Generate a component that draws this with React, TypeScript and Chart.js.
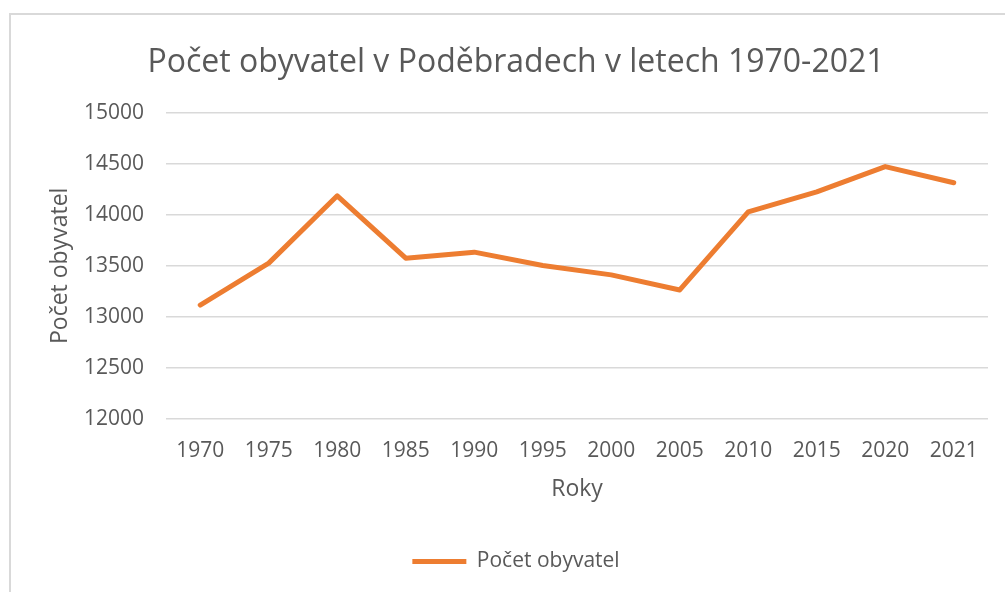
import React, { useEffect, useRef } from "react";
import { Chart, registerables } from "chart.js";

Chart.register(...registerables);

const years = ["1970", "1975", "1980", "1985", "1990", "1995", "2000", "2005", "2010", "2015", "2020", "2021"];
const population = [13115, 13526, 14187, 13575, 13634, 13503, 13411, 13263, 14030, 14226, 14474, 14315];
const yMin = 12000;
const yMax = 15000;
const yStep = 500;
const chartTitle = "Počet obyvatel v Poděbradech v letech 1970-2021";
const seriesName = "Počet obyvatel";
const xTitle = "Roky";
const yTitle = "Počet obyvatel";

const FONT = "'Open Sans', Lato, sans-serif";
const TEXT = "#595959";
const ORANGE = "#ED7D31";
const GRID = "#d9d9d9";

export default function App() {
  const ref = useRef<HTMLCanvasElement | null>(null);

  useEffect(() => {
    if (!ref.current) return;
    const chart = new Chart(ref.current, {
      type: "line",
      data: {
        labels: years,
        datasets: [
          {
            label: seriesName,
            data: population,
            borderColor: ORANGE,
            backgroundColor: ORANGE,
            borderWidth: 5,
            borderCapStyle: "round",
            borderJoinStyle: "round",
            pointRadius: 0,
            pointHoverRadius: 0,
            tension: 0,
            fill: false,
          },
        ],
      },
      options: {
        responsive: false,
        animation: false,
        devicePixelRatio: 1,
        layout: { padding: { left: 44, right: 17, top: 14, bottom: 10 } },
        plugins: {
          title: {
            display: true,
            text: chartTitle,
            color: TEXT,
            font: { family: FONT, size: 32, weight: "normal" },
            padding: { top: 30, bottom: 30.6 },
          },
          legend: {
            display: true,
            position: "bottom",
            labels: {
              color: TEXT,
              font: { family: FONT, size: 21 },
              usePointStyle: true,
              pointStyle: "line",
              pointStyleWidth: 54,
              boxHeight: 21,
              padding: 10,
            },
          },
          tooltip: { enabled: false },
        },
        scales: {
          x: {
            offset: true,
            grid: { display: false, drawTicks: false },
            border: { display: false },
            ticks: {
              color: TEXT,
              font: { family: FONT, size: 21 },
              padding: 20,
              maxRotation: 0,
              autoSkip: false,
            },
            title: {
              display: true,
              text: xTitle,
              color: TEXT,
              font: { family: FONT, size: 23 },
              padding: { top: -8.6, bottom: 38.2 },
            },
          },
          y: {
            min: yMin,
            max: yMax,
            grid: { color: GRID, lineWidth: 1.5, drawTicks: false },
            border: { display: false },
            afterFit: (scale: any) => {
              scale.width = 122;
            },
            ticks: {
              stepSize: yStep,
              color: TEXT,
              font: { family: FONT, size: 21 },
              padding: 22,
              callback: (v: any) => String(v),
            },
            title: {
              display: true,
              text: yTitle,
              color: TEXT,
              font: { family: FONT, size: 23 },
              padding: { top: 2.5, bottom: 11 },
            },
          },
        },
      },
    });
    return () => chart.destroy();
  }, []);

  return (
    <div style={{ position: "fixed", left: 0, top: 0, width: 1005, height: 592, background: "#fff", overflow: "hidden" }}>
      <div
        style={{
          position: "absolute",
          left: 9,
          top: 13,
          width: 1020,
          height: 620,
          border: `2px solid ${GRID}`,
          boxSizing: "border-box",
        }}
      />
      <canvas ref={ref} width={1005} height={592} style={{ position: "absolute", left: 0, top: 0, width: 1005, height: 592 }} />
    </div>
  );
}
